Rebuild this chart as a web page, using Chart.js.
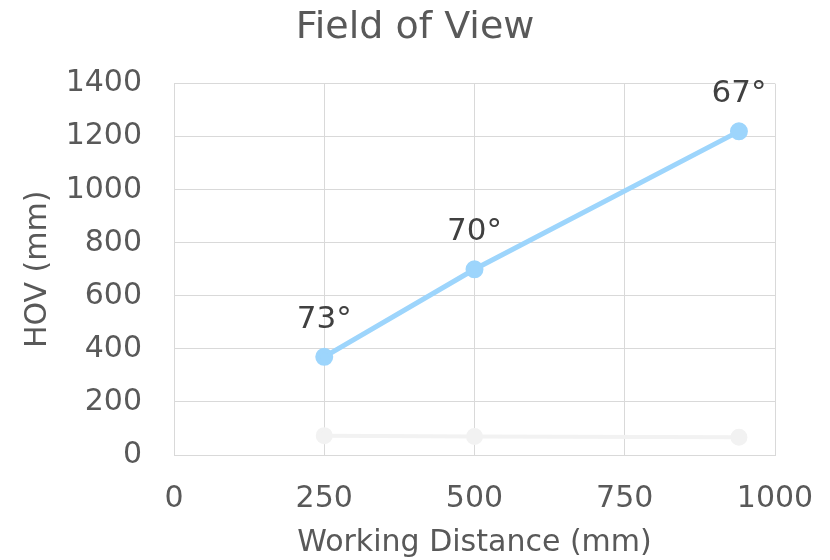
<!DOCTYPE html>
<html>
<head>
<meta charset="utf-8">
<title>Field of View</title>
<script src="https://cdn.jsdelivr.net/npm/chart.js@4"></script>
<style>
  html, body { margin: 0; padding: 0; background: #fff; }
  #wrap { width: 830px; height: 560px; }
</style>
</head>
<body>
<div id="wrap"><canvas id="fovChart" width="830" height="560"></canvas></div>
<script>
// data
const workingDistance = [250, 500, 940];   // mm
const hov = [370, 700, 1220];              // mm
const fovAngle = [73, 70, 67];             // degrees
const xTicks = [0, 250, 500, 750, 1000];
const yTicks = [0, 200, 400, 600, 800, 1000, 1200, 1400];

const FONT = "'DejaVu Sans', Verdana, sans-serif";
const GRID = '#d9d9d9';
const TEXT = '#595959';

// angle labels above the HOV points
const angleLabels = {
  id: 'angleLabels',
  afterDatasetsDraw(chart) {
    const ctx = chart.ctx;
    const meta = chart.getDatasetMeta(0);
    ctx.save();
    ctx.font = '31px ' + FONT;
    ctx.fillStyle = '#404040';
    ctx.textAlign = 'center';
    ctx.textBaseline = 'middle';
    meta.data.forEach((pt, i) => {
      ctx.fillText(fovAngle[i] + '°', pt.x, pt.y - 37);
    });
    ctx.restore();
  }
};

const ctx = document.getElementById('fovChart').getContext('2d');
new Chart(ctx, {
  type: 'scatter',
  data: {
    datasets: [
      {
        label: 'HOV',
        data: workingDistance.map((x, i) => ({ x: x, y: hov[i] })),
        showLine: true,
        borderColor: '#9dd5fc',
        backgroundColor: '#9dd5fc',
        borderWidth: 5,
        pointRadius: 6.5,
        pointHoverRadius: 6.5
      },
      {
        label: 'FOV',
        data: workingDistance.map((x, i) => ({ x: x, y: fovAngle[i] })),
        showLine: true,
        borderColor: '#f2f2f2',
        backgroundColor: '#f2f2f2',
        borderWidth: 4,
        pointRadius: 6.5,
        pointHoverRadius: 6.5
      }
    ]
  },
  options: {
    responsive: false,
    animation: false,
    layout: { padding: 0 },
    plugins: {
      legend: { display: false },
      tooltip: { enabled: false },
      title: {
        display: true,
        text: 'Field of View',
        color: TEXT,
        font: { family: FONT, size: 38, weight: 'normal' },
        padding: { top: 5, bottom: 33 }
      }
    },
    scales: {
      x: {
        type: 'linear',
        min: 0,
        max: 1000,
        afterBuildTicks: (axis) => { axis.ticks = xTicks.map(v => ({ value: v })); },
        afterFit: (axis) => { axis.height = 105; axis.paddingLeft = 0; axis.paddingRight = 55; },
        grid: { color: GRID, drawTicks: false },
        border: { color: GRID },
        ticks: { color: TEXT, font: { family: FONT, size: 30 }, padding: 26, maxRotation: 0,
                 callback: (v) => String(v) },
        title: {
          display: true,
          text: 'Working Distance (mm)',
          color: TEXT,
          font: { family: FONT, size: 30, lineHeight: 1.1 },
          padding: 0
        }
      },
      y: {
        type: 'linear',
        min: 0,
        max: 1400,
        afterBuildTicks: (axis) => { axis.ticks = yTicks.map(v => ({ value: v })); },
        afterFit: (axis) => { axis.width = 174; axis.paddingTop = 0; axis.paddingBottom = 0; },
        grid: { color: GRID, drawTicks: false },
        border: { color: GRID },
        ticks: { color: TEXT, font: { family: FONT, size: 30 }, padding: 32,
                 callback: (v) => String(v) },
        title: {
          display: true,
          text: 'HOV (mm)',
          color: TEXT,
          font: { family: FONT, size: 30 },
          padding: { top: 20, bottom: 0 }
        }
      }
    }
  },
  plugins: [angleLabels]
});
</script>
</body>
</html>
